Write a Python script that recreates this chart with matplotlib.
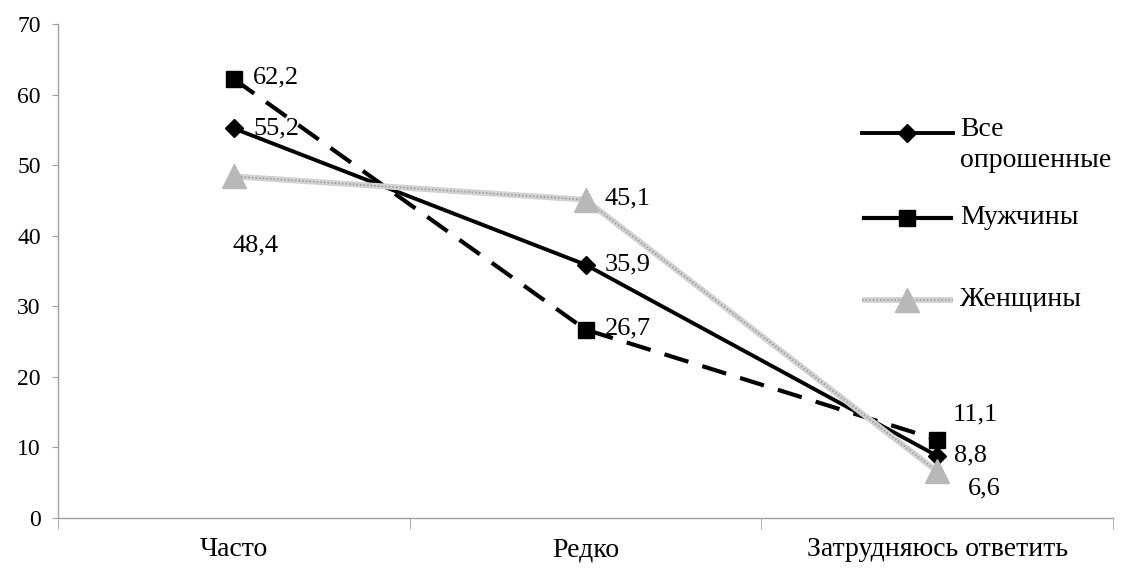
import matplotlib
matplotlib.use("Agg")
import matplotlib.pyplot as plt
from matplotlib.lines import Line2D
import numpy as np

categories = ["Часто", "Редко", "Затрудняюсь ответить"]
series_names = ["Все\nопрошенные", "Мужчины", "Женщины"]
all_vals = [55.2, 35.9, 8.8]
men_vals = [62.2, 26.7, 11.1]
women_vals = [48.4, 45.1, 6.6]
y_ticks = [0, 10, 20, 30, 40, 50, 60, 70]

plt.rcParams['font.family'] = ['Liberation Serif', 'DejaVu Serif']

fig = plt.figure(figsize=(11.36, 5.74), dpi=100)
ax = fig.add_axes([58/1136, 1 - 518/574, (1113-58)/1136, (518-24)/574])

x = np.arange(len(categories))
gray_base = '#d2d2d2'
gray_dots = '#9c9c9c'
gray_marker = '#b8b8b8'

ax.plot(x, all_vals, color='black', lw=2.8, marker='D', markersize=9,
        markerfacecolor='black', markeredgecolor='black', zorder=3)
ax.plot(x, men_vals, color='black', lw=3.0, dashes=(6, 3.5), marker='s', markersize=12,
        markerfacecolor='black', markeredgecolor='black', zorder=3)
ax.plot(x, women_vals, color=gray_base, lw=4.2, zorder=4, solid_capstyle='butt')
ax.plot(x, women_vals, color=gray_dots, lw=1.3, dashes=(0.8, 1.2), zorder=4)
ax.plot(x, women_vals, linestyle='none', marker='^', markersize=17,
        markerfacecolor=gray_marker, markeredgecolor=gray_marker, zorder=5)

fs = 19
def fmt(v):
    return f"{v:.1f}".replace('.', ',')

# data labels (offsets in points)
offsets_all = [(14, 0), (14, 0), (12, 0)]
offsets_men = [(14, 1), (14, 1), (11, 18)]
offsets_women = [(-1, -50), (14, 1), (22, -12)]
for vals, offs in [(all_vals, offsets_all), (men_vals, offsets_men), (women_vals, offsets_women)]:
    for xi, v, o in zip(x, vals, offs):
        ax.annotate(fmt(v), (xi, v), xytext=o, textcoords='offset points',
                    ha='left', va='center', fontsize=fs, zorder=6)

ax.set_xlim(-0.5, 2.5)
ax.set_ylim(0, 70)
ax.set_yticks(y_ticks)
ax.set_yticklabels([str(t) for t in y_ticks], fontsize=17)
ax.set_xticks(x)
ax.set_xticklabels(categories, fontsize=20)
ax.tick_params(axis='x', which='major', length=0, pad=14)
ax.set_xticks([-0.5, 0.5, 1.5, 2.5], minor=True)
ax.tick_params(axis='x', which='minor', length=8, color='#a0a0a0', direction='out')
ax.tick_params(axis='y', length=4.5, color='#a0a0a0', direction='out', pad=8)

for s in ['top', 'right']:
    ax.spines[s].set_visible(False)
for s in ['left', 'bottom']:
    ax.spines[s].set_color('#a0a0a0')
    ax.spines[s].set_linewidth(1.0)

# manual legend in figure pixel coordinates
def fx(px):
    return px / 1136
def fy(py):
    return 1 - py / 574

leg_fs = 20
# Все опрошенные
fig.add_artist(Line2D([fx(862), fx(953)], [fy(133)] * 2, transform=fig.transFigure,
                      color='black', lw=2.8))
fig.add_artist(Line2D([fx(907)], [fy(133)], transform=fig.transFigure, linestyle='none',
                      marker='D', markersize=9, color='black'))
fig.text(fx(960), fy(117), series_names[0], fontsize=leg_fs, ha='left', va='top',
         linespacing=1.3, transform=fig.transFigure)
# Мужчины
fig.add_artist(Line2D([fx(864), fx(951)], [fy(218)] * 2, transform=fig.transFigure,
                      color='black', lw=3.0))
fig.add_artist(Line2D([fx(907)], [fy(218)], transform=fig.transFigure, linestyle='none',
                      marker='s', markersize=12, color='black'))
fig.text(fx(960), fy(218), series_names[1], fontsize=leg_fs, ha='left', va='center',
         transform=fig.transFigure)
# Женщины
fig.add_artist(Line2D([fx(862), fx(953)], [fy(300)] * 2, transform=fig.transFigure,
                      color=gray_base, lw=4.2, solid_capstyle='butt'))
fig.add_artist(Line2D([fx(862), fx(953)], [fy(300)] * 2, transform=fig.transFigure,
                      color=gray_dots, lw=1.3, dashes=(0.8, 1.2)))
fig.add_artist(Line2D([fx(907)], [fy(300)], transform=fig.transFigure, linestyle='none',
                      marker='^', markersize=17, markerfacecolor=gray_marker,
                      markeredgecolor=gray_marker))
fig.text(fx(960), fy(300), series_names[2], fontsize=leg_fs, ha='left', va='center',
         transform=fig.transFigure)

fig.savefig("out.png", dpi=100)
